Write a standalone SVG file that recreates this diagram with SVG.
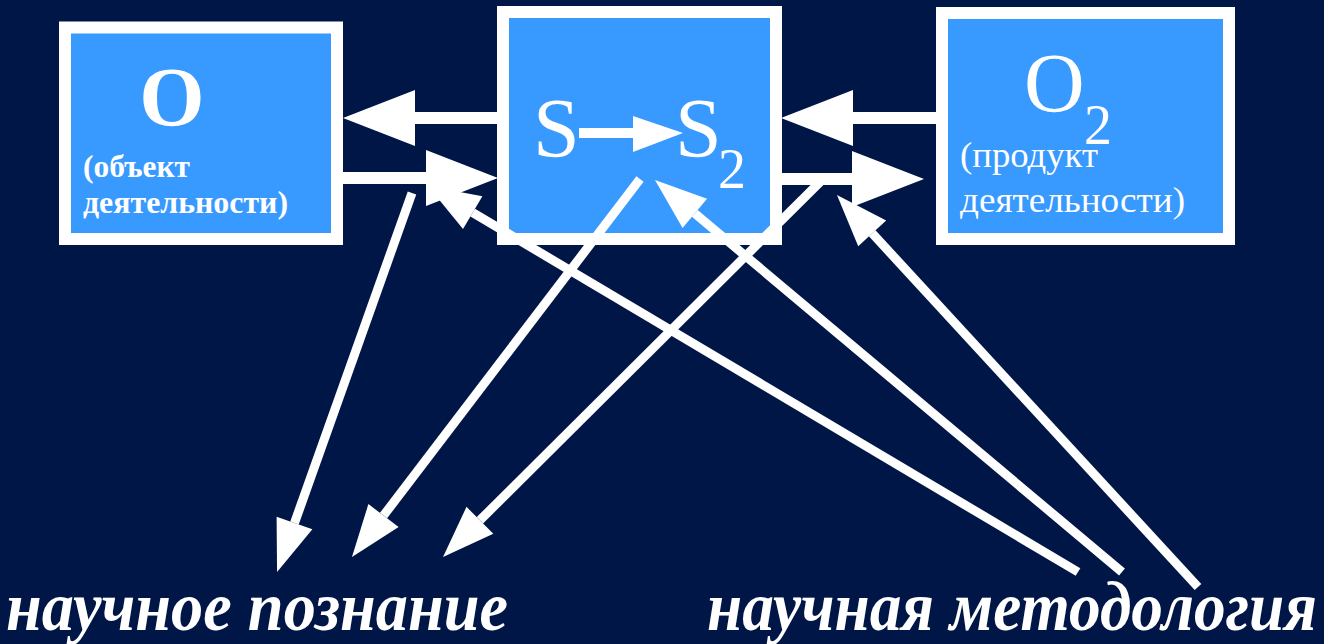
<svg xmlns="http://www.w3.org/2000/svg" width="1324" height="644" viewBox="0 0 1324 644">
<style>
.box{fill:#3899FF;stroke:#FFFFFF;stroke-width:12}
.t{fill:#FFFFFF;font-family:"Liberation Serif","Times New Roman",serif}
.b{font-weight:bold}
.bi{font-weight:bold;font-style:italic}
.h{stroke:#FFFFFF;stroke-width:12;fill:none;marker-end:url(#mh)}
.d{stroke:#FFFFFF;stroke-width:9;fill:none;marker-end:url(#md)}
</style>
<defs>
<marker id="mh" markerUnits="userSpaceOnUse" orient="auto" refX="0" refY="0" markerWidth="80" markerHeight="60" overflow="visible"><path d="M0,-28 L72,0 L0,28 Z" fill="#FFFFFF"/></marker>
<marker id="md" markerUnits="userSpaceOnUse" orient="auto" refX="0" refY="0" markerWidth="60" markerHeight="40" overflow="visible"><path d="M0,-19 L52,0 L0,19 Z" fill="#FFFFFF"/></marker>
</defs>
<rect x="0" y="0" width="1324" height="644" fill="#001646"/>
<g id="node-o">
<rect class="box" x="65" y="27.5" width="272" height="211.5"/>
<text class="t b" x="172" y="126" font-size="84" text-anchor="middle">O</text>
<text class="t b" x="83" y="177" font-size="32" textLength="107" lengthAdjust="spacingAndGlyphs">(объект</text>
<text class="t b" x="83" y="213" font-size="32" textLength="205" lengthAdjust="spacingAndGlyphs">деятельности)</text>
</g>
<g id="node-s">
<rect class="box" x="503" y="12" width="273" height="227"/>
<text class="t" x="533" y="157" font-size="84">S</text>
<line x1="579" y1="133" x2="634" y2="133" stroke="#FFFFFF" stroke-width="10"/>
<polygon points="633,116 683,133 633,152" fill="#FFFFFF"/>
<text class="t" x="675" y="157" font-size="84">S</text>
<text class="t" x="718" y="188" font-size="56">2</text>
</g>
<g id="node-o2">
<rect class="box" x="942" y="13" width="287" height="226"/>
<text class="t" x="1024" y="112" font-size="84">O</text>
<text class="t" x="1084" y="144" font-size="56">2</text>
<text class="t" x="960" y="167" font-size="36" textLength="138" lengthAdjust="spacingAndGlyphs">(продукт</text>
<text class="t" x="960" y="212" font-size="36" textLength="225" lengthAdjust="spacingAndGlyphs">деятельности)</text>
</g>
<g id="connectors">
<line class="h" x1="497" y1="118" x2="415" y2="118"/>
<line class="h" x1="343" y1="178" x2="426" y2="178"/>
<line class="h" x1="936" y1="118" x2="853" y2="118"/>
<line class="h" x1="782" y1="179" x2="852" y2="179"/>
<line class="d" x1="412" y1="193" x2="294.5" y2="523"/>
<line class="d" x1="640" y1="179" x2="383.5" y2="515.6"/>
<line class="d" x1="820" y1="182" x2="479.9" y2="520.3"/>
<line class="d" x1="1078" y1="572" x2="472.7" y2="212.6"/>
<line class="d" x1="1122" y1="572" x2="694.8" y2="213.4"/>
<line class="d" x1="1198" y1="587" x2="872.2" y2="233.3"/>
</g>
<g id="labels">
<text class="t bi" x="6" y="630" font-size="70" textLength="502" lengthAdjust="spacingAndGlyphs">научное познание</text>
<text class="t bi" x="707" y="630" font-size="70" textLength="610" lengthAdjust="spacingAndGlyphs">научная методология</text>
</g>
</svg>
